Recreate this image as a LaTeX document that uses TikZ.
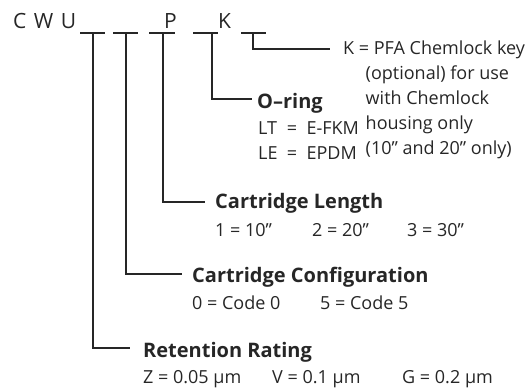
\documentclass[tikz,border=0pt]{standalone}
\usepackage{fontspec}
\setmainfont{Open Sans}
\usetikzlibrary{positioning}
\tikzset{
  code/.style={
    % The letters of the part number
    inner sep=0pt,anchor=base west,
    font=\fontsize{21}{24}\selectfont,text=black!85},
  blank/.style={
    % The blanks to be filled in
    line width=1.7pt,draw=black!85},
  leader/.style={
    % The lines from a blank to its field
    line width=1.7pt,draw=black!85},
  field/.style={
    % The name of a field
    inner sep=0pt,anchor=base west,
    font=\bfseries\fontsize{20}{24}\selectfont,text=black!85},
  choice/.style={
    % The values a field can take
    inner sep=0pt,anchor=base west,
    font=\fontsize{18}{24}\selectfont,text=black!85}}

\begin{document}
\begin{tikzpicture}[x=1pt,y=-1pt]
	\useasboundingbox (0,0) rectangle (530,388);
	% The part number
	\node[code] (cwu) at (13,28) {C\kern7.5pt W\kern7.5pt U};
	\node[code] (p) at (164,28) {P};
	\node[code] (k) at (218,28) {K};
	% The blanks
	\foreach \l/\r in {80/105,113/138,149/175,193/218,241/266}
		\draw[blank] (\l,33) -- (\r,33);
	\coordinate (b1) at (93,33);
	\coordinate (b2) at (126,33);
	\coordinate (b3) at (163,33);
	\coordinate (b4) at (212,33);
	\coordinate (b5) at (253,33);
	% The fields
	\node[choice] (key) at (343,54)
		{\begin{tabular}[t]{@{}l@{}}
		K = PFA Chemlock key\\[1pt]
		\hspace*{1.25em}(optional) for use\\[1pt]
		\hspace*{1.25em}with Chemlock\\[1pt]
		\hspace*{1.25em}housing only\\[1pt]
		\hspace*{1.25em}(10" and 20" only)
		\end{tabular}};
	\node[field] (oring) at (257,108) {O–ring};
	\node[choice] (orv) at (258,134)
		{\begin{tabular}[t]{@{}l@{\ \ }c@{\ \ }l@{}}
		LT & = & E-FKM\\[1pt]
		LE & = & EPDM
		\end{tabular}};
	\node[field] (len) at (215,208) {Cartridge Length};
	\node[choice] (len1) at (215,236) {1 = 10"};
	\node[choice] (len2) at (312,236) {2 = 20"};
	\node[choice] (len3) at (407,236) {3 = 30"};
	\node[field] (conf) at (192,282) {Cartridge Configuration};
	\node[choice] (conf0) at (192,309) {0 = Code 0};
	\node[choice] (conf5) at (320,309) {5 = Code 5};
	\node[field] (ret) at (143,357) {Retention Rating};
	\node[choice] (retz) at (143,383) {Z = 0.05 µm};
	\node[choice] (retv) at (272,383) {V = 0.1 µm};
	\node[choice] (retg) at (402,383) {G = 0.2 µm};
	% Lines out of the blanks
	\draw[leader] (b1) |- ([xshift=-13pt,yshift=9pt]ret.base west);
	\draw[leader] (b2) |- ([xshift=-10pt,yshift=8pt]conf.base west);
	\draw[leader] (b3) |- ([xshift=-10pt,yshift=6pt]len.base west);
	\draw[leader] (b4) |- ([xshift=-5pt,yshift=9pt]oring.base west);
	\draw[leader] (b5) |- ([xshift=-13pt,yshift=5pt]key.base west);
\end{tikzpicture}
\end{document}
